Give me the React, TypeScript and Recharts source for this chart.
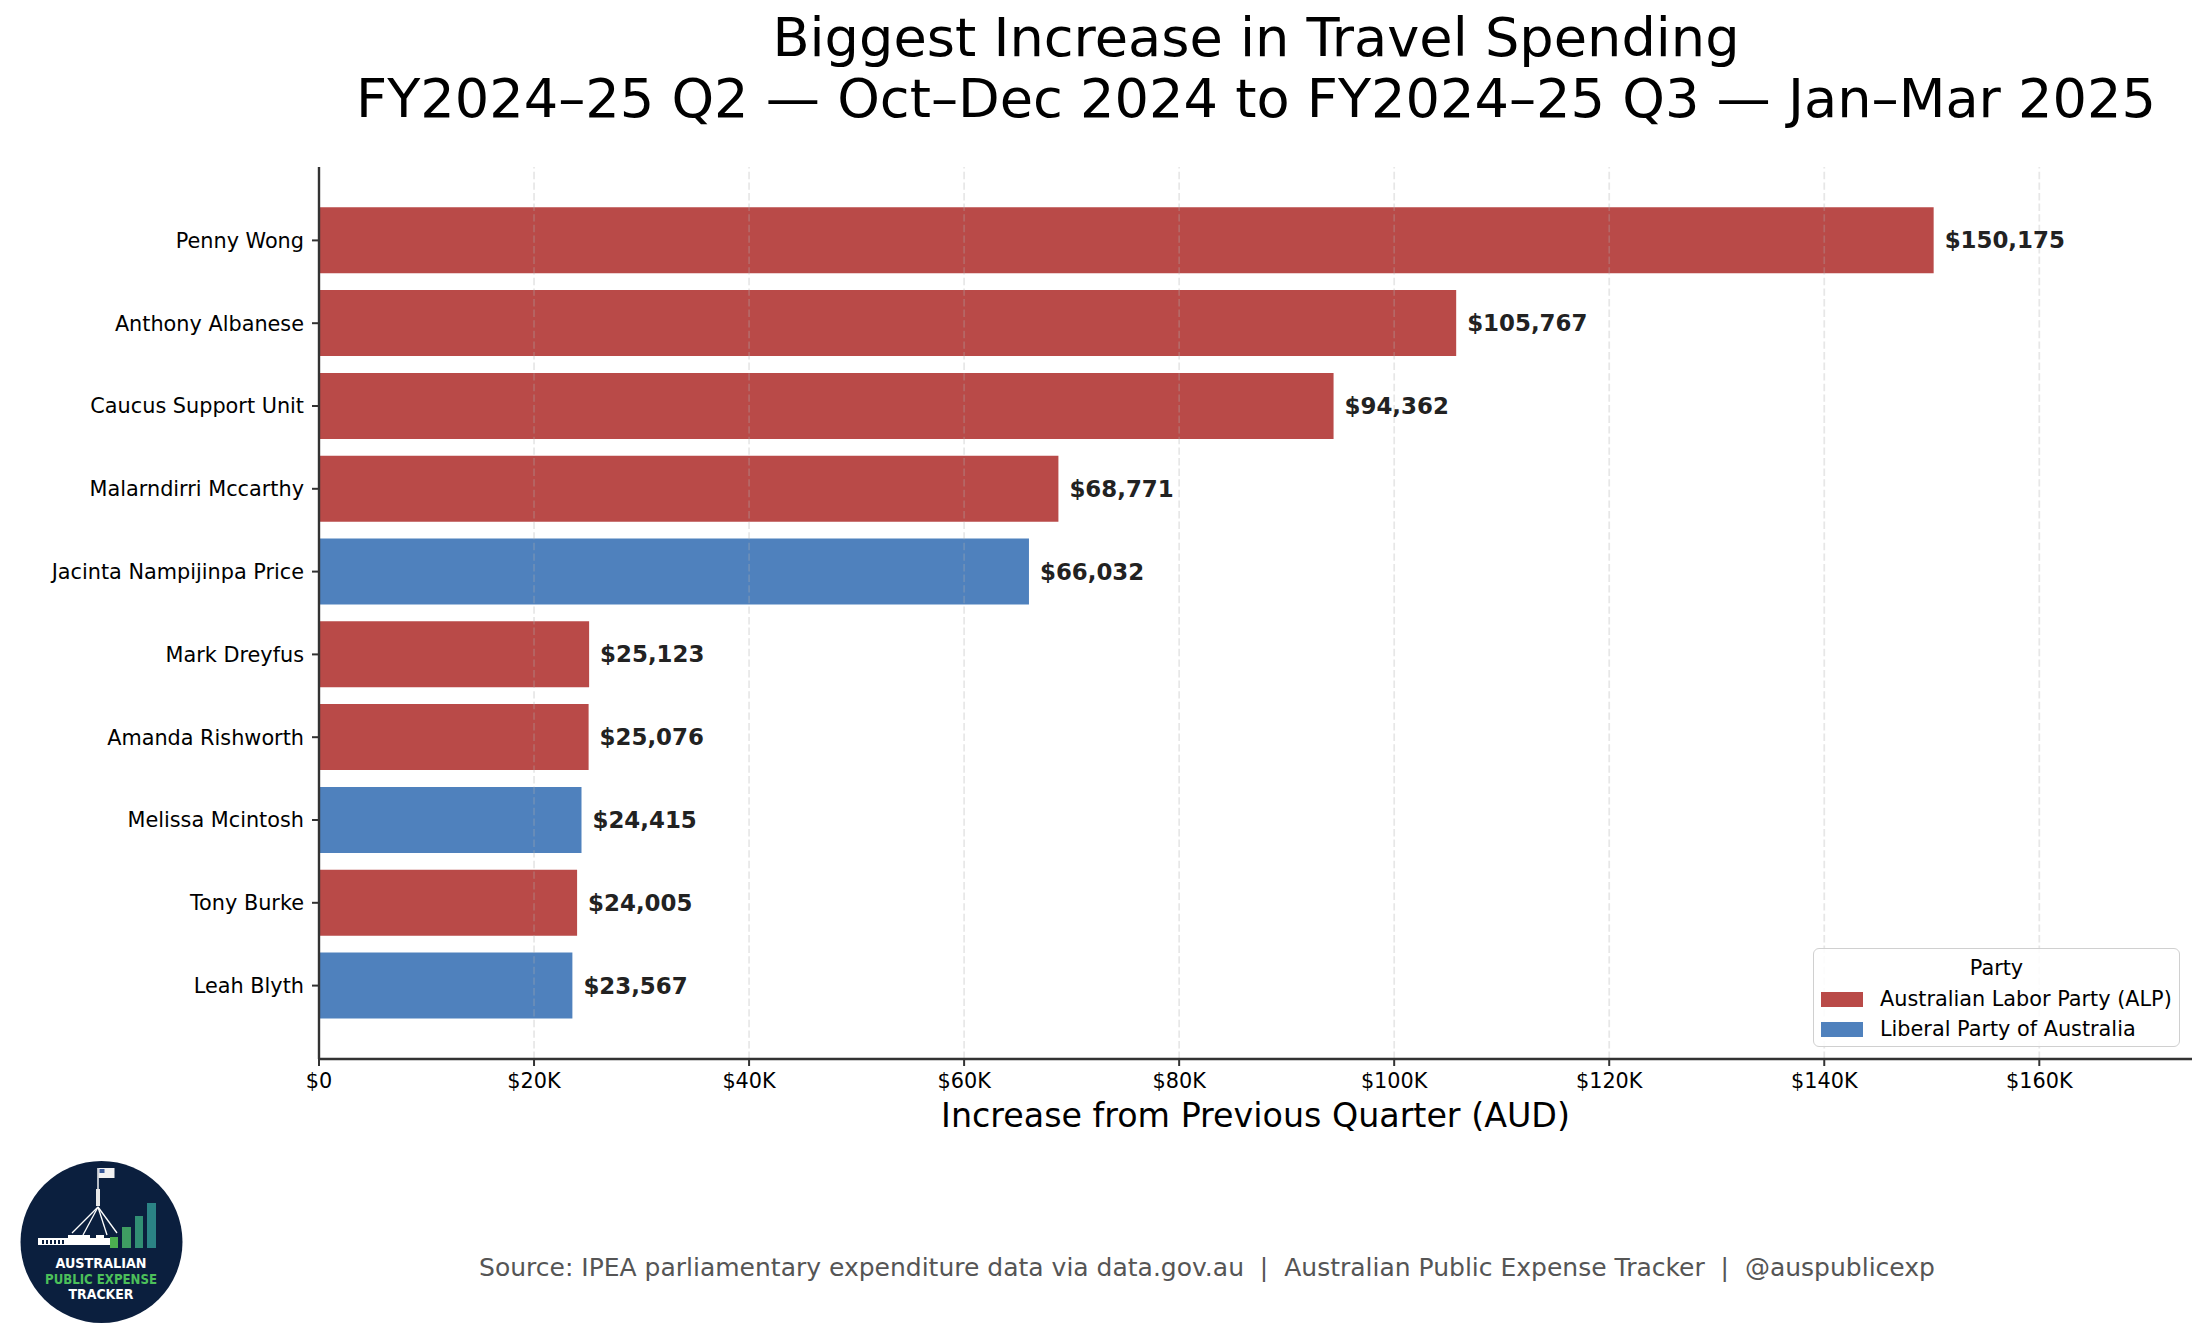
import { Bar, BarChart, Cell, LabelList, Legend, ReferenceLine, XAxis, YAxis } from "recharts";

const NAMES = [
  "Penny Wong",
  "Anthony Albanese",
  "Caucus Support Unit",
  "Malarndirri Mccarthy",
  "Jacinta Nampijinpa Price",
  "Mark Dreyfus",
  "Amanda Rishworth",
  "Melissa Mcintosh",
  "Tony Burke",
  "Leah Blyth",
];
const INCREASES = [150175, 105767, 94362, 68771, 66032, 25123, 25076, 24415, 24005, 23567];
const PARTY = ["ALP", "ALP", "ALP", "ALP", "LIB", "ALP", "ALP", "LIB", "ALP", "LIB"];
const PARTY_KEYS = ["ALP", "LIB"];
const PARTY_NAMES = ["Australian Labor Party (ALP)", "Liberal Party of Australia"];
const X_TICKS = [0, 20000, 40000, 60000, 80000, 100000, 120000, 140000, 160000];

const TITLE = ["Biggest Increase in Travel Spending", "FY2024–25 Q2 — Oct–Dec 2024 to FY2024–25 Q3 — Jan–Mar 2025"];
const X_LABEL = "Increase from Previous Quarter (AUD)";
const SOURCE = "Source: IPEA parliamentary expenditure data via data.gov.au  |  Australian Public Expense Tracker  |  @auspublicexp";

const COLORS: Record<string, string> = { ALP: "#b94a48", LIB: "#4f81bd" };
const FONT = "'DejaVu Sans', sans-serif";
const AXIS = "#333333";

const rows = NAMES.map((name, i) => ({ name, value: INCREASES[i], party: PARTY[i] }));
const xMax = Math.max(...INCREASES) * 1.16;

function money(n: number | null | undefined): string {
  if (n == null || Number.isNaN(n)) return "";
  return `$${Math.round(n).toLocaleString("en-US")}`;
}

function kTick(v: number): string {
  return v === 0 ? "$0" : `$${v / 1000}K`;
}

function PartyLegend() {
  return (
    <div
      style={{
        position: "relative",
        width: 367,
        height: 99,
        boxSizing: "border-box",
        border: "1.5px solid #d0d0d0",
        borderRadius: 6,
        background: "rgba(255,255,255,0.85)",
        fontFamily: FONT,
        fontSize: 20.8,
        color: "#000",
      }}
    >
      <div style={{ position: "absolute", left: 0, right: 0, top: 6, textAlign: "center", lineHeight: "26px" }}>
        Party
      </div>
      {PARTY_KEYS.map((k, i) => (
        <div key={k} style={{ position: "absolute", left: 7, top: 37 + i * 30, height: 26, display: "flex", alignItems: "center" }}>
          <span style={{ display: "inline-block", width: 42, height: 15, background: COLORS[k] }} />
          <span style={{ marginLeft: 17, lineHeight: "26px", whiteSpace: "nowrap" }}>{PARTY_NAMES[i]}</span>
        </div>
      ))}
    </div>
  );
}

function Logo() {
  return (
    <svg width={200} height={197} style={{ position: "absolute", left: 0, top: 1140 }}>
      <circle cx={101.5} cy={102} r={81} fill="#0b1f3e" />
      <line x1={98} y1={28} x2={98} y2={66} stroke="#fff" strokeWidth={1.4} />
      <rect x={96} y={49} width={4} height={17} fill="#e8e8e8" />
      <rect x={98.5} y={28} width={16} height={10} fill="#f2f2f2" />
      <rect x={99.5} y={29} width={5} height={4} fill="#3a5a9a" />
      <g stroke="#fff" strokeWidth={1.3}>
        <line x1={98} y1={67} x2={72} y2={93} />
        <line x1={98} y1={67} x2={83} y2={95} />
        <line x1={98} y1={67} x2={107} y2={95} />
        <line x1={98} y1={67} x2={117} y2={93} />
      </g>
      <rect x={38} y={98} width={72} height={7} fill="#fff" />
      <rect x={68} y={95} width={22} height={4} fill="#fff" />
      <rect x={96} y={95} width={8} height={4} fill="#fff" />
      {[42, 46, 50, 54, 58, 62].map((x) => (
        <rect key={x} x={x} y={100} width={2} height={4} fill="#0b1f3e" />
      ))}
      <rect x={110} y={97} width={8} height={11} fill="#4caf50" />
      <rect x={122} y={87} width={9} height={21} fill="#3f9d62" />
      <rect x={135} y={76} width={8} height={32} fill="#318f74" />
      <rect x={147} y={63} width={9} height={45} fill="#2b8385" />
      <g fontFamily={FONT} fontWeight="bold" fontSize={14} textAnchor="middle">
        <text x={101} y={128} fill="#fff" textLength={91} lengthAdjust="spacingAndGlyphs">AUSTRALIAN</text>
        <text x={101} y={143.5} fill="#4cc05a" textLength={112} lengthAdjust="spacingAndGlyphs">PUBLIC EXPENSE</text>
        <text x={101} y={159} fill="#fff" textLength={65} lengthAdjust="spacingAndGlyphs">TRACKER</text>
      </g>
    </svg>
  );
}

export default function App() {
  return (
    <div style={{ position: "relative", width: 2205, height: 1337, background: "#fff", fontFamily: FONT }}>
      <style>{"body{margin:0}"}</style>
      <div
        style={{
          position: "absolute",
          left: 256,
          width: 2000,
          top: 7,
          textAlign: "center",
          fontSize: 54.2,
          lineHeight: "61px",
          color: "#000",
          whiteSpace: "nowrap",
        }}
      >
        <div>{TITLE[0]}</div>
        <div>{TITLE[1]}</div>
      </div>
      <BarChart
        width={2205}
        height={1337}
        layout="vertical"
        data={rows}
        margin={{ top: 167, right: 13, bottom: 238, left: 0 }}
        barCategoryGap="10%"
        style={{ position: "absolute", left: 0, top: 0 }}
      >
        <XAxis
          type="number"
          domain={[0, xMax]}
          ticks={X_TICKS}
          allowDataOverflow
          tickFormatter={kTick}
          height={40}
          tickSize={7}
          tickMargin={7}
          stroke={AXIS}
          axisLine={{ stroke: AXIS, strokeWidth: 2.4 }}
          tickLine={{ stroke: AXIS, strokeWidth: 2 }}
          tick={{ fill: "#000", fontSize: 20.8, fontFamily: FONT }}
          label={{ value: X_LABEL, position: "bottom", offset: 4, fill: "#000", fontSize: 33.3, fontFamily: FONT }}
        />
        <YAxis
          type="category"
          dataKey="name"
          width={319}
          interval={0}
          padding={{ top: 32, bottom: 32 }}
          tickSize={7}
          tickMargin={8}
          stroke={AXIS}
          axisLine={{ stroke: AXIS, strokeWidth: 2.4 }}
          tickLine={{ stroke: AXIS, strokeWidth: 2 }}
          tick={{ fill: "#000", fontSize: 20.8, fontFamily: FONT }}
        />
        <Bar dataKey="value" isAnimationActive={false}>
          {rows.map((r) => (
            <Cell key={r.name} fill={COLORS[r.party]} />
          ))}
          <LabelList
            dataKey="value"
            position="right"
            offset={11}
            formatter={(v: number) => money(v)}
            fill="#222"
            fontSize={22.9}
            fontWeight="bold"
            fontFamily={FONT}
          />
        </Bar>
        {X_TICKS.slice(1).map((t) => (
          <ReferenceLine key={t} x={t} stroke="#b0b0b0" strokeOpacity={0.3} strokeWidth={1.7} strokeDasharray="7.4 3.2" />
        ))}
        <Legend
          layout="horizontal"
          verticalAlign="middle"
          align="center"
          wrapperStyle={{ left: 1813, top: 948, width: 367, height: 99 }}
          content={() => <PartyLegend />}
        />
      </BarChart>
      <div
        style={{
          position: "absolute",
          left: 0,
          width: 2414,
          top: 1255,
          textAlign: "center",
          fontSize: 25,
          lineHeight: "25px",
          color: "#555",
          whiteSpace: "pre",
        }}
      >
        {SOURCE}
      </div>
      <Logo />
    </div>
  );
}
